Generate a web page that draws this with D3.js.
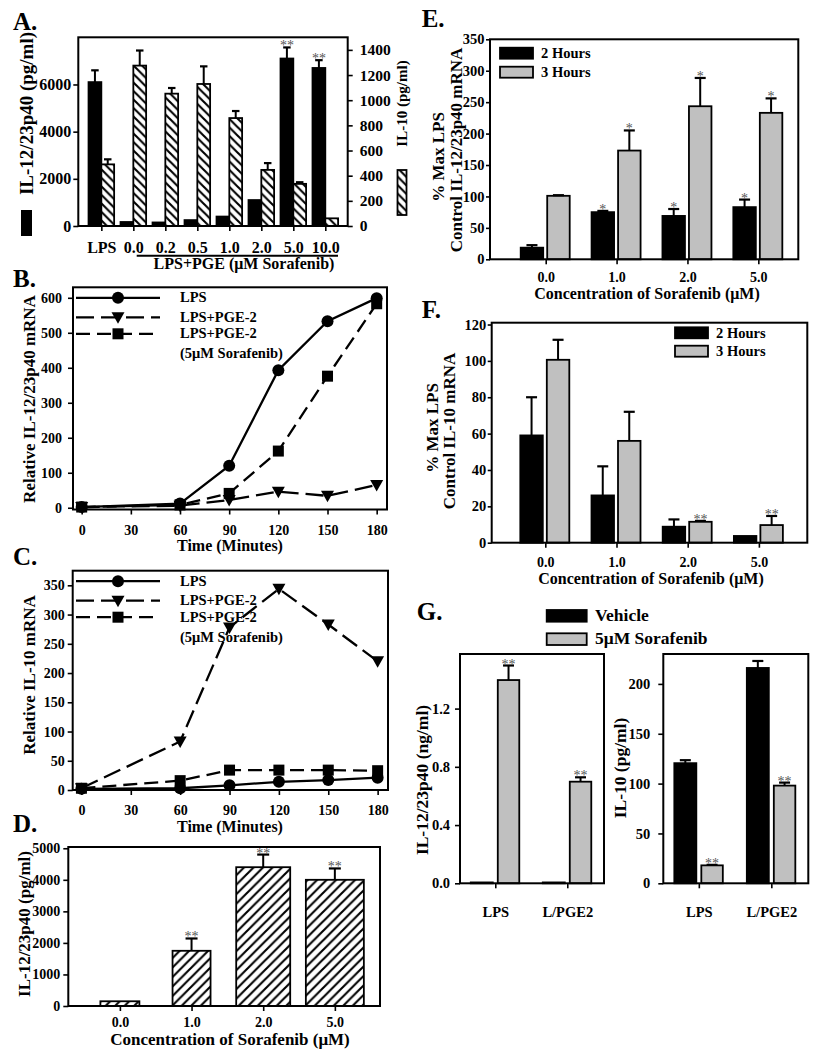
<!DOCTYPE html>
<html><head><meta charset="utf-8">
<script src="https://cdn.jsdelivr.net/npm/d3@7"></script>
<style>
body{margin:0;background:#fff}
text{font-family:"Liberation Serif","Times New Roman",serif;font-weight:bold;fill:#000}
</style>
</head><body>
<svg id="c" width="817" height="1050"></svg>
<script>
// ---------------- DATA ----------------
// Panel A
const aCategories = ["LPS","0.0","0.2","0.5","1.0","2.0","5.0","10.0"];
const aIL12 = [6100,170,150,250,400,1100,7100,6700];
const aIL12Err = [500,0,0,0,0,0,470,330];
const aIL12Stars = ["","","","","","","**","**"];
const aIL10 = [490,1275,1052,1129,858,446,335,61];
const aIL10Err = [40,120,45,140,56,54,13,0];
const aLeftTicks = [0,2000,4000,6000];
const aRightTicks = [0,200,400,600,800,1000,1200,1400];
// Panels B, C
const timeMinutes = [0,60,90,120,150,180];
const timeTicks = [0,30,60,90,120,150,180];
const lineLegendLabels = ["LPS","LPS+PGE-2","LPS+PGE-2"];
const lineLegendNote = "(5μM Sorafenib)";
const bLPS = [2,12,120,393,533,599];
const bPGE = [2,6,22,46,34,65];
const bSoraf = [2,8,41,162,376,583];
const bTicks = [0,100,200,300,400,500,600];
const cLPS = [2,3,8,14,17,21];
const cPGE = [3,83,278,344,283,220];
const cSoraf = [3,16,34,34,34,33];
const cTicks = [0,50,100,150,200,250,300,350];
// Panel D
const dConc = ["0.0","1.0","2.0","5.0"];
const dIL12 = [150,1750,4400,4000];
const dErr = [0,390,400,360];
const dStars = ["","**","**","**"];
const dTicks = [0,1000,2000,3000,4000,5000];
// Panels E, F
const concLabels = ["0.0","1.0","2.0","5.0"];
const hourLegend = ["2 Hours","3 Hours"];
const e2h = [18.5,75,69,83];
const e2hErr = [4,2,11,12];
const e2hStars = ["","*","*","*"];
const e3h = [101,173,243.5,233];
const e3hErr = [1,32,45,23];
const e3hStars = ["","*","*","*"];
const eTicks = [0,50,100,150,200,250,300,350];
const f2h = [59,26,8.8,3.7];
const f2hErr = [21,16,4,0];
const f2hStars = ["","","",""];
const f3h = [100.6,56,11.5,9.7];
const f3hErr = [11,16,0.5,5];
const f3hStars = ["","","**","**"];
const fTicks = [0,20,40,60,80,100,120];
// Panel G
const gGroups = ["LPS","L/PGE2"];
const gLegend = ["Vehicle","5μM Sorafenib"];
const gIL12Veh = [0.006,0.006];
const gIL12VehErr = [0,0];
const gIL12Sor = [1.396,0.698];
const gIL12SorErr = [0.1,0.03];
const gIL12Ticks = [0,0.4,0.8,1.2];
const gIL10Veh = [120.5,216];
const gIL10VehErr = [3,7];
const gIL10Sor = [18,98];
const gIL10SorErr = [0.5,3];
const gIL10Ticks = [0,50,100,150,200];
const gStars = ["**","**"];

// ---------------- HELPERS ----------------
const svg = d3.select("#c");
const defs = svg.append("defs");
const GRAY = "#c0c0c0";

function hatch(id, dir, P, sw){
  const p = defs.append("pattern").attr("id",id).attr("patternUnits","userSpaceOnUse")
    .attr("width",P).attr("height",P);
  p.append("rect").attr("width",P).attr("height",P).attr("fill","#fff");
  const d = dir==="back"
    ? `M${-P/2},${P/2}L${P/2},${P*1.5}M0,0L${P},${P}M${P/2},${-P/2}L${P*1.5},${P/2}`
    : `M0,${P}L${P},0M${-P/2},${P/2}L${P/2},${-P/2}M${P/2},${P*1.5}L${P*1.5},${P/2}`;
  p.append("path").attr("d",d).attr("stroke","#000").attr("stroke-width",sw).attr("fill","none");
}
hatch("hatchA","back",8.5,2.1);
hatch("hatchD","fwd",9.5,2.1);

function txt(x,y,s,size,opt={}){
  const t = svg.append("text").attr("font-size",size).text(s);
  if(opt.rot){ t.attr("transform",`translate(${x},${y}) rotate(-90)`).attr("text-anchor","middle"); }
  else { t.attr("x",x).attr("y",y).attr("text-anchor",opt.anchor||"start"); }
  if(opt.fill) t.style("fill",opt.fill);
  if(opt.weight) t.style("font-weight",opt.weight);
  return t;
}
function frame(x0,y0,x1,y1){
  svg.append("rect").attr("x",x0).attr("y",y0).attr("width",x1-x0).attr("height",y1-y0)
    .attr("fill","none").attr("stroke","#000").attr("stroke-width",2);
}
function yAxis(x, scale, ticks, o={}){
  const ax = (o.right? d3.axisRight(scale): d3.axisLeft(scale)).tickValues(ticks)
    .tickSize(o.size ?? 5).tickPadding(o.pad ?? 3).tickFormat(o.fmt || d3.format("d"));
  const g = svg.append("g").attr("transform",`translate(${x},0)`).call(ax);
  g.select(".domain").remove();
  g.attr("font-size",o.font||14);
  g.selectAll("line").attr("stroke","#000").attr("stroke-width",1.6);
  return g;
}
function xAxis(y, scale, ticks, fmt, o={}){
  const ax = d3.axisBottom(scale).tickValues(ticks).tickSize(o.size ?? 5).tickFormat(fmt);
  const g = svg.append("g").attr("transform",`translate(0,${y})`).call(ax);
  g.select(".domain").remove();
  g.attr("font-size",o.font||14);
  g.selectAll("text").attr("dy",null).attr("y",o.base);
  g.selectAll("line").attr("stroke","#000").attr("stroke-width",1.6);
  return g;
}
function bars(cls, vals, xs, w, yS, fill){
  svg.selectAll("rect."+cls).data(vals).join("rect").attr("class",cls)
    .attr("x",(d,i)=>xs(i)).attr("width",(d,i)=>typeof w==="function"?w(i):w)
    .attr("y",d=>yS(d)).attr("height",d=>yS(0)-yS(d))
    .attr("fill",fill).attr("stroke","#000").attr("stroke-width",1.8);
}
function errs(cls, vals, err, cx, yS, cap){
  const g = svg.append("g").attr("class",cls);
  vals.forEach((v,i)=>{
    if(!err[i]) return;
    const x = cx(i), y0 = yS(v), y1 = yS(v+err[i]);
    g.append("line").attr("x1",x).attr("x2",x).attr("y1",y0).attr("y2",y1).attr("stroke","#000").attr("stroke-width",2);
    g.append("line").attr("x1",x-cap/2).attr("x2",x+cap/2).attr("y1",y1).attr("y2",y1).attr("stroke","#000").attr("stroke-width",2.2);
  });
}
function stars(vals, err, st, cx, yS){
  vals.forEach((v,i)=>{
    if(!st[i]) return;
    txt(cx(i), yS(v+err[i])+3, st[i], 14, {anchor:"middle", fill:"#555", weight:"normal"});
  });
}
function marker(g, type, x, y){
  if(type==="circle") g.append("circle").attr("cx",x).attr("cy",y).attr("r",6).attr("fill","#000");
  else if(type==="tri") g.append("path").attr("d",`M${x-6.5},${y-5}L${x+6.5},${y-5}L${x},${y+6.5}Z`).attr("fill","#000");
  else g.append("rect").attr("x",x-5.5).attr("y",y-5.5).attr("width",11).attr("height",11).attr("fill","#000");
}

// ---------------- PANEL A ----------------
txt(13,29.5,"A.",25);
const xA = d3.scaleLinear().domain([-0.72,7.70]).range([78.3,347.7]);
const yAL = d3.scaleLinear().domain([0,8000]).range([226,37.3]);
const yAR = d3.scaleLinear().domain([0,1500]).range([226,37.3]);
const bwA = xA(0.4)-xA(0);
bars("a1", aIL12, i=>xA(i)-bwA, bwA, yAL, "#000");
bars("a2", aIL10, i=>xA(i), bwA, yAR, "url(#hatchA)");
errs("ea1", aIL12, aIL12Err, i=>xA(i)-bwA/2, yAL, 7.5);
errs("ea2", aIL10, aIL10Err, i=>xA(i)+bwA/2, yAR, 7.5);
stars(aIL12, aIL12Err, aIL12Stars, i=>xA(i)-bwA/2, yAL);
frame(78.3,37.3,347.7,226);
yAxis(78.3, yAL, aLeftTicks, {pad:2, font:16});
yAxis(347.7, yAR, aRightTicks, {right:true, pad:7, font:15.5});
xAxis(226, xA, d3.range(8), i=>aCategories[i], {base:27, font:16});
svg.append("line").attr("x1",136.7).attr("x2",338).attr("y1",255.7).attr("y2",255.7).attr("stroke","#000").attr("stroke-width",2);
txt(244,268.5,"LPS+PGE (μM Sorafenib)",16,{anchor:"middle"});
txt(33,113.5,"IL-12/23p40 (pg/ml)",19,{rot:true});
svg.append("rect").attr("x",21).attr("y",210).attr("width",11).attr("height",26).attr("fill","#000");
txt(406.5,103.5,"IL-10 (pg/ml)",15,{rot:true});
svg.append("rect").attr("x",397.5).attr("y",170).attr("width",9).attr("height",45).attr("fill","url(#hatchA)").attr("stroke","#000").attr("stroke-width",1.8);

// ---------------- PANELS B & C ----------------
function linePanel(top, bottom, left, right, yDomain, ticks, series, pad, ylabel, ylabelY, titleTxt, titleY){
  txt(13,titleY,titleTxt,25);
  const x = d3.scaleLinear().domain([-5.3,186.3]).range([left,right]);
  const y = d3.scaleLinear().domain(yDomain).range([bottom,top]);
  const lg = svg.append("g");
  const offs = [10.5,30,46.5], tOffs=[15,34.5,51];
  series.forEach((s,k)=>{
    lg.append("line").attr("x1",76).attr("x2",160).attr("y1",top+offs[k]).attr("y2",top+offs[k])
      .attr("stroke","#000").attr("stroke-width",2.3).attr("stroke-dasharray",s.dash);
    marker(lg, s.m, 118, top+offs[k]);
    txt(180, top+tOffs[k], lineLegendLabels[k], 14.5);
  });
  txt(180, top+71, lineLegendNote, 14.5);
  series.forEach(s=>{
    const g = svg.append("g");
    g.append("path").datum(s.v).attr("d", d3.line().x((d,i)=>x(timeMinutes[i])).y(d=>y(d)))
      .attr("fill","none").attr("stroke","#000").attr("stroke-width",2.3).attr("stroke-dasharray",s.dash);
    s.v.forEach((d,i)=>marker(g, s.m, x(timeMinutes[i]), y(d)));
  });
  frame(left,top,right,bottom);
  yAxis(left, y, ticks, {pad, font:14});
  xAxis(bottom, x, timeTicks, d3.format("d"), {base:25.2, font:14});
  txt(230, bottom+41.5, "Time (Minutes)", 16, {anchor:"middle"});
  txt(35, ylabelY, ylabel, 17, {rot:true});
}
linePanel(287.3, 509.5, 73, 387, [-5,630], bTicks,
  [{v:bLPS,m:"circle",dash:null},{v:bPGE,m:"tri",dash:"18,7"},{v:bSoraf,m:"sq",dash:"14,7"}],
  6, "Relative IL-12/23p40 mRNA", 399, "B.", 286.5);
linePanel(570.7, 790, 72.7, 388, [0,375], cTicks,
  [{v:cLPS,m:"circle",dash:null},{v:cPGE,m:"tri",dash:"18,7"},{v:cSoraf,m:"sq",dash:"14,7"}],
  3, "Relative IL-10 mRNA", 675, "C.", 565);

// ---------------- PANEL D ----------------
txt(13,832,"D.",25);
const xD = d3.scaleLinear().domain([-0.72,3.63]).range([68.3,380]);
const yD = d3.scaleLinear().domain([0,5040]).range([1006,847]);
const dBarW = [39,38,54,58];
bars("d1", dIL12, i=>xD(i)-dBarW[i]/2, i=>dBarW[i], yD, "url(#hatchD)");
errs("ed1", dIL12, dErr, i=>xD(i), yD, 12);
stars(dIL12, dErr, dStars, i=>xD(i), yD);
frame(68.3,847,380,1006);
yAxis(68.3, yD, dTicks, {pad:3, font:14});
xAxis(1006, xD, d3.range(4), i=>dConc[i], {base:21, font:14});
txt(230,1044.5,"Concentration of Sorafenib (μM)",17,{anchor:"middle"});
txt(30,924,"IL-12/23p40 (pg/ml)",17,{rot:true});

// ---------------- PANELS E & F ----------------
function hourPanel(o){
  txt(421.7,o.titleY,o.title,25);
  const x = d3.scaleLinear().domain(o.xd).range([o.left,o.right]);
  const y = d3.scaleLinear().domain(o.yd).range([o.bottom,o.top]);
  const w = 22.5;
  bars(o.id+"1", o.v2, i=>x(i)-25, w, y, "#000");
  bars(o.id+"2", o.v3, i=>x(i)+1.5, w, y, GRAY);
  errs(o.id+"e1", o.v2, o.e2, i=>x(i)-25+w/2, y, 11);
  errs(o.id+"e2", o.v3, o.e3, i=>x(i)+1.5+w/2, y, 11);
  stars(o.v2, o.e2, o.s2, i=>x(i)-25+w/2, y);
  stars(o.v3, o.e3, o.s3, i=>x(i)+1.5+w/2, y);
  frame(o.left,o.top,o.right,o.bottom);
  yAxis(o.left, y, o.ticks, {size:4, pad:1.5, font:14.5});
  xAxis(o.bottom, x, d3.range(4), i=>concLabels[i], {base:o.xb, font:14});
  txt(o.tcx, o.bottom+o.tb, "Concentration of Sorafenib (μM)", 16, {anchor:"middle"});
  [["#000",0],[GRAY,1]].forEach(([f,k])=>{
    svg.append("rect").attr("x",o.lx).attr("y",o.ly+k*o.lstep).attr("width",33).attr("height",11)
      .attr("fill",f).attr("stroke","#000").attr("stroke-width",1.8);
    txt(o.lx+41, o.ly+10.5+k*o.lstep, hourLegend[k], 14.5);
  });
  txt(o.yl1x, o.yl1y, "% Max LPS", 17, {rot:true});
  txt(o.yl2x, o.yl2y, o.ylabel, 17, {rot:true});
}
hourPanel({id:"e", title:"E.", titleY:26.7, left:490, right:798.3, top:39.3, bottom:259.3,
  xd:[-0.786,3.564], yd:[0,350], ticks:eTicks, v2:e2h, e2:e2hErr, s2:e2hStars, v3:e3h, e3:e3hErr, s3:e3hStars,
  xb:23.2, tb:39.8, tcx:647, lx:500, ly:47.7, lstep:19,
  yl1x:444, yl1y:157, yl2x:461.5, yl2y:150, ylabel:"Control IL-12/23p40 mRNA"});
hourPanel({id:"f", title:"F.", titleY:318, left:491.7, right:807.3, top:322.7, bottom:542.7,
  xd:[-0.753,3.68], yd:[0,121], ticks:fTicks, v2:f2h, e2:f2hErr, s2:f2hStars, v3:f3h, e3:f3hErr, s3:f3hStars,
  xb:24.3, tb:41.3, tcx:651, lx:675, ly:327.3, lstep:18.4,
  yl1x:438, yl1y:428, yl2x:455, yl2y:431, ylabel:"Control IL-10 mRNA"});

// ---------------- PANEL G ----------------
txt(416.7,620,"G.",25);
[["#000",0],[GRAY,1]].forEach(([f,k])=>{
  svg.append("rect").attr("x",546.7).attr("y",610+k*23.3).attr("width",40).attr("height",11.7)
    .attr("fill",f).attr("stroke","#000").attr("stroke-width",1.8);
  txt(595, 620.7+k*23.3, gLegend[k], 17.5);
});
function gPanel(o){
  const x = d3.scaleLinear().domain([-0.49,1.51]).range([o.left,o.right]);
  const y = d3.scaleLinear().domain(o.yd).range([883.3,654]);
  bars(o.id+"1", o.veh, i=>x(i)-24.5, 22, y, "#000");
  bars(o.id+"2", o.sor, i=>x(i)+2.5, 21.5, y, GRAY);
  errs(o.id+"e1", o.veh, o.vehE, i=>x(i)-13.5, y, 11);
  errs(o.id+"e2", o.sor, o.sorE, i=>x(i)+13.25, y, 11);
  stars(o.sor, o.sorE, gStars, i=>x(i)+13.25, y);
  frame(o.left,654,o.right,883.3);
  yAxis(o.left, y, o.ticks, {pad:o.pad, font:14.5, fmt:o.fmt});
  xAxis(883.3, x, [0,1], i=>gGroups[i], {base:33.5, font:14.5});
  txt(o.ylx, o.yly, o.ylabel, 17.5, {rot:true});
}
gPanel({id:"g1", left:460, right:604, yd:[0,1.575], veh:gIL12Veh, vehE:gIL12VehErr, sor:gIL12Sor, sorE:gIL12SorErr,
  ticks:gIL12Ticks, pad:5, fmt:d3.format(".1f"), ylx:428, yly:780, ylabel:"IL-12/23p40 (ng/ml)"});
gPanel({id:"g2", left:663.3, right:808.3, yd:[0,230], veh:gIL10Veh, vehE:gIL10VehErr, sor:gIL10Sor, sorE:gIL10SorErr,
  ticks:gIL10Ticks, pad:8, fmt:d3.format("d"), ylx:626, yly:768, ylabel:"IL-10 (pg/ml)"});
</script>
</body></html>
